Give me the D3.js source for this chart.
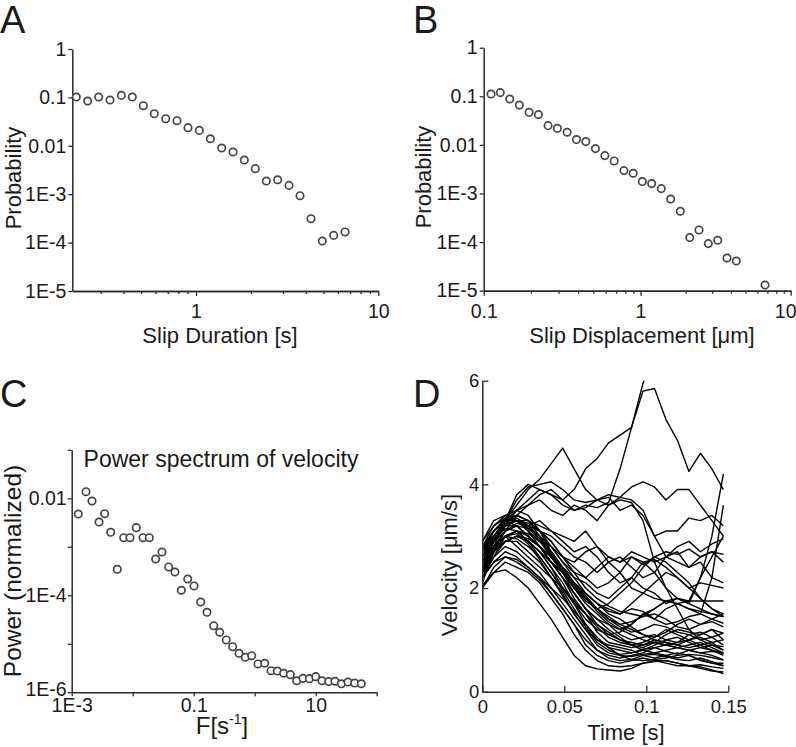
<!DOCTYPE html>
<html><head><meta charset="utf-8">
<script src="https://cdn.jsdelivr.net/npm/d3@7"></script>
<style>html,body{margin:0;padding:0;background:#fff;}svg{display:block;}</style>
</head><body>
<svg id="fig" width="796" height="747"></svg>
<script>
// ---------- DATA ----------
// Panel A: slip duration distribution
const durX = [0.2205,0.2545,0.2925,0.3375,0.3893,0.4472,0.514,0.5904,0.6823,0.7866,0.904,1.0426,1.198,1.384,1.596,1.841,2.115,2.43,2.806,3.237,3.72,4.274,4.93,5.692,6.567];
const durP = [0.102,0.0843,0.102,0.0884,0.110,0.102,0.0674,0.0461,0.0363,0.0330,0.0237,0.0208,0.0140,0.00901,0.00745,0.00509,0.00337,0.00187,0.00199,0.00152,0.000932,0.000312,0.000108,0.000141,0.000166];
// Panel B: slip displacement distribution
const dispX = [0.1114,0.1276,0.1466,0.1688,0.1947,0.2233,0.2574,0.2951,0.3404,0.3903,0.4479,0.516,0.5925,0.6792,0.7834,0.8983,1.028,1.187,1.375,1.589,1.841,2.127,2.452,2.828,3.266,3.766,4.343,6.744];
const dispP = [0.1115,0.1191,0.0879,0.0662,0.0469,0.0420,0.0249,0.0220,0.0182,0.0129,0.0117,0.00839,0.00602,0.00467,0.00296,0.00261,0.00176,0.00160,0.00126,0.000771,0.000431,0.000124,0.000178,0.0000931,0.000109,0.0000471,0.0000408,0.0000131];
// Panel C: power spectrum of velocity
const freq = [0.001282,0.001714,0.002153,0.002805,0.003475,0.004355,0.005593,0.00712,0.009036,0.01146,0.01476,0.01871,0.02382,0.0302,0.0389,0.04932,0.06266,0.0798,0.1012,0.1303,0.1652,0.2128,0.2667,0.342,0.4355,0.5534,0.7015,0.8933,1.132,1.459,1.849,2.344,2.985,3.837,4.887,6.194,7.852,10.0,12.68,16.33,20.7,26.3,33.88,43.55,55.98];
const power = [0.00474,0.01368,0.0088,0.00324,0.00481,0.00199,0.000344,0.00154,0.00154,0.00248,0.00154,0.00154,0.00056,0.000781,0.000384,0.000302,0.000127,0.000217,0.000156,0.0000728,0.0000446,0.0000236,0.0000173,0.000012,0.00000871,0.00000637,0.00000527,0.00000569,0.00000384,0.00000396,0.00000279,0.00000275,0.00000247,0.00000231,0.00000173,0.00000194,0.00000191,0.0000021,0.00000173,0.00000166,0.00000169,0.0000015,0.00000163,0.00000155,0.0000015];
// Panel D: velocity traces
const time = [0,0.007,0.014,0.021,0.028,0.035,0.042,0.049,0.056,0.063,0.070,0.077,0.084,0.091,0.098,0.105,0.112,0.119,0.126,0.133,0.140,0.147];
const velocity = [
 [2.4,2.9,3.3,3.6,3.9,4.1,4.4,4.7,4.3,3.9,3.7,3.75,3.5,3.6,3.4,3.0,2.6,2.7,2.4,2.5,2.2,2.1],
 [2.5,2.9,3.3,3.8,4.0,3.9,3.8,3.7,3.9,4.3,4.5,4.8,4.95,5.1,5.8,5.85,5.25,4.85,4.25,4.6,4.3,3.9],
 [2.6,3.0,3.3,3.5,3.6,3.8,3.9,3.7,3.5,3.6,3.55,3.65,4.3,5.1,5.95,6.6,7.0,7.2,7.0,7.0,7.0,7.0],
 [2.3,2.8,3.3,3.7,3.95,4.0,4.05,3.9,3.7,3.65,3.7,3.6,3.75,3.95,4.05,3.95,3.7,3.9,3.9,3.6,3.3,3.0],
 [2.5,2.9,3.2,3.5,3.7,3.9,3.8,3.6,3.5,3.55,3.7,3.8,3.75,3.7,3.5,3.0,3.1,3.1,3.35,3.3,3.4,3.2],
 [2.2,2.7,3.1,3.4,3.6,3.7,3.5,3.4,3.6,3.5,3.3,3.6,3.7,3.65,3.3,2.5,2.0,1.6,1.2,1.0,0.9,0.8],
 [2.6,3.1,3.3,3.4,3.3,3.2,3.1,3.0,2.9,3.1,2.8,2.6,2.5,2.6,2.45,2.6,2.7,2.65,2.75,2.6,2.7,2.65],
 [2.4,2.9,3.2,3.3,3.3,3.1,3.0,2.8,2.6,2.5,2.3,2.5,2.6,2.4,2.2,2.3,2.6,2.8,2.9,2.7,2.85,2.95],
 [2.3,2.8,3.1,3.25,3.2,3.3,3.1,2.9,2.7,2.8,2.6,2.3,2.1,2.2,2.5,2.55,2.4,2.2,2.0,2.1,2.05,2.0],
 [2.2,2.6,3.0,3.1,3.05,2.9,2.8,2.6,2.5,2.7,2.8,2.5,2.3,2.0,1.9,1.8,1.75,1.8,1.75,1.75,1.75,1.75],
 [2.5,3.0,3.3,3.35,3.2,3.0,2.8,2.5,2.3,2.2,2.4,2.6,2.5,2.7,2.6,2.5,2.6,2.5,2.4,2.6,2.7,2.5],
 [2.7,3.0,3.25,3.3,3.2,3.1,2.9,2.6,2.4,2.2,2.0,2.1,2.3,2.6,2.5,2.3,2.0,1.8,1.7,1.6,1.5,1.45],
 [2.1,2.7,3.0,3.1,3.0,2.8,2.6,2.4,2.2,2.1,1.9,1.8,2.0,2.2,2.0,1.9,1.7,1.8,1.7,2.2,2.6,3.0],
 [2.4,2.8,3.1,3.2,3.15,3.0,2.7,2.4,2.1,1.9,1.7,1.6,1.5,1.7,1.9,2.1,2.3,2.2,2.0,1.8,1.6,1.45],
 [2.3,2.7,2.9,3.0,2.95,2.8,2.6,2.3,2.0,1.8,1.6,1.7,1.9,2.1,2.4,2.6,2.5,2.3,2.1,1.8,1.6,1.5],
 [2.5,2.9,3.2,3.2,3.0,2.8,2.5,2.2,1.9,1.6,1.4,1.3,1.2,1.3,1.5,1.4,1.6,1.7,1.75,2.2,3.0,4.2],
 [2.2,2.6,2.9,3.0,2.9,2.7,2.4,2.0,1.7,1.4,1.2,1.1,1.15,1.3,1.5,1.6,1.75,1.7,1.6,1.5,2.2,3.6],
 [2.05,2.3,2.35,2.2,2.0,1.7,1.4,1.05,0.7,0.5,0.44,0.42,0.4,0.45,0.55,0.6,0.6,0.55,0.5,0.45,0.4,0.38],
 [2.0,2.3,2.5,2.4,2.3,2.1,1.8,1.5,1.1,0.8,0.6,0.5,0.48,0.5,0.55,0.58,0.6,0.55,0.5,0.48,0.42,0.35],
 [2.2,2.5,2.7,2.6,2.4,2.2,1.9,1.6,1.3,0.9,0.7,0.6,0.55,0.6,0.65,0.6,0.55,0.5,0.5,0.52,0.48,0.45],
 [2.3,2.6,2.8,2.7,2.5,2.3,2.0,1.7,1.4,1.1,0.8,0.65,0.6,0.62,0.7,0.72,0.68,0.62,0.6,0.65,0.58,0.5],
 [2.4,2.7,2.9,2.9,2.7,2.5,2.2,1.9,1.5,1.2,0.9,0.75,0.7,0.68,0.72,0.75,0.7,0.65,0.7,0.6,0.55,0.55],
 [2.5,2.8,3.0,3.1,2.9,2.7,2.4,2.1,1.7,1.3,1.0,0.85,0.8,0.75,0.82,0.85,0.78,0.72,0.8,0.75,0.7,0.62],
 [2.6,2.9,3.2,3.3,3.1,2.8,2.5,2.2,1.8,1.5,1.15,0.95,0.9,0.85,0.9,0.95,0.9,0.85,0.9,0.95,0.85,0.75],
 [2.7,3.0,3.3,3.4,3.3,3.0,2.6,2.3,1.9,1.6,1.3,1.1,1.0,0.95,0.9,1.0,0.95,0.9,1.0,1.05,0.95,0.8],
 [2.8,3.1,3.3,3.3,3.2,2.9,2.6,2.3,2.0,1.7,1.5,1.3,1.1,1.0,1.05,1.1,1.0,0.95,1.1,1.15,1.05,0.9],
 [2.9,3.2,3.4,3.5,3.4,3.1,2.7,2.4,2.1,1.8,1.55,1.35,1.2,1.1,1.0,0.95,0.9,0.95,1.0,1.1,1.2,1.0],
 [2.5,2.9,3.1,3.2,3.0,2.8,2.5,2.2,1.9,1.6,1.4,1.2,1.05,0.9,0.85,0.95,1.1,1.2,1.15,1.1,1.2,1.13],
 [2.3,2.7,2.9,3.0,2.9,2.7,2.5,2.3,2.0,1.75,1.6,1.45,1.3,1.2,1.1,1.05,1.15,1.3,1.4,1.3,1.35,1.25],
 [2.6,3.0,3.2,3.3,3.25,3.1,2.8,2.5,2.2,1.9,1.7,1.5,1.4,1.25,1.1,1.0,0.95,0.9,0.85,0.9,0.95,1.0],
 [2.4,2.8,3.0,2.95,2.8,2.6,2.3,2.0,1.7,1.5,1.3,1.15,1.0,0.9,0.8,0.75,0.8,0.85,0.8,0.75,0.78,0.74],
 [2.7,3.1,3.3,3.2,3.0,2.8,2.5,2.3,2.1,1.9,1.7,1.55,1.5,1.6,1.55,1.4,1.3,1.35,1.45,1.5,1.4,1.32],
 [2.2,2.5,2.6,2.55,2.4,2.2,2.0,1.8,1.55,1.3,1.05,0.85,0.7,0.62,0.6,0.62,0.65,0.7,0.72,0.7,0.66,0.61],
 [2.8,3.2,3.35,3.4,3.3,3.1,2.9,2.6,2.3,2.0,1.8,1.65,1.55,1.5,1.45,1.6,1.75,1.7,1.6,1.55,1.5,1.45],
 [2.0,2.4,2.6,2.5,2.35,2.15,1.9,1.6,1.3,1.0,0.8,0.7,0.65,0.7,0.75,0.85,0.9,0.85,0.8,0.85,0.9,0.87],
 [2.9,3.3,3.4,3.3,3.1,2.9,2.7,2.4,2.1,1.85,1.6,1.4,1.25,1.15,1.2,1.3,1.25,1.15,1.1,1.0,1.05,1.13],
 [2.5,2.8,3.0,2.8,2.6,2.4,2.2,2.0,1.75,1.5,1.25,1.05,0.95,0.9,0.95,1.05,1.2,1.1,1.0,0.9,0.8,0.74],
 [2.6,2.95,3.15,3.1,2.9,2.6,2.3,1.95,1.6,1.25,0.95,0.8,0.72,0.75,0.8,0.9,1.0,1.05,0.95,0.85,0.8,0.7],
 [2.35,2.75,3.0,3.05,2.85,2.55,2.2,1.85,1.5,1.2,1.0,0.9,0.85,0.8,0.7,0.65,0.7,0.75,0.7,0.62,0.55,0.5],
 [2.75,3.1,3.35,3.3,3.15,2.95,2.65,2.35,2.05,1.8,1.6,1.4,1.3,1.35,1.45,1.5,1.4,1.25,1.2,1.3,1.4,1.5]
];
// Tick values / labels
const probTicks = [1,0.1,0.01,1e-3,1e-4,1e-5];
const probTickLabels = ["1","0.1","0.01","1E-3","1E-4","1E-5"];
const durMajor = [1,10], durMajorLabels = ["1","10"];
const durMinor = [0.3,0.4,0.5,0.6,0.7,0.8,0.9,2,3,4,5,6,7,8,9];
const dispMajor = [0.1,1,10], dispMajorLabels = ["0.1","1","10"];
const dispMinor = [0.2,0.3,0.4,0.5,0.6,0.7,0.8,0.9,2,3,4,5,6,7,8,9];
const freqTicks = [1e-3,1e-2,1e-1,1,10,100];
const freqTickLabels = ["1E-3","","0.1","","10",""];
const powTicks = [1e-6,1e-5,1e-4,1e-3,1e-2,1e-1];
const powTickLabels = ["1E-6","","1E-4","","0.01",""];
const timeTicks = [0,0.05,0.1,0.15], timeTickLabels = ["0","0.05","0.1","0.15"];
const velTicks = [0,2,4,6], velTickLabels = ["0","2","4","6"];

// ---------- DRAWING ----------
const FONT = "'Liberation Sans', Arial, Helvetica, sans-serif";
const svg = d3.select("#fig");
const AX = "#2b2b2b";

function styleAxis(g, fs) {
  g.select(".domain").attr("stroke", AX).attr("stroke-width", 1.5);
  g.selectAll(".tick line").attr("stroke", AX).attr("stroke-width", 1.3);
  g.selectAll("text").attr("font-family", FONT).attr("font-size", fs).attr("fill", "#1a1a1a");
}
function label(txt, x, y, size, rot, anchor) {
  const t = svg.append("text").attr("font-family", FONT).attr("font-size", size)
    .attr("fill", "#1a1a1a").attr("text-anchor", anchor || "middle").text(txt);
  if (rot) t.attr("transform", `translate(${x},${y}) rotate(-90)`);
  else t.attr("x", x).attr("y", y);
  return t;
}
function scatter(xs, ys, xS, yS) {
  svg.append("g").selectAll("circle").data(xs).join("circle")
    .attr("cx", d => xS(d)).attr("cy", (d, i) => yS(ys[i])).attr("r", 3.7)
    .attr("fill", "white").attr("stroke", "#454545").attr("stroke-width", 1.7);
}

// Panel A
const xA = d3.scaleLog().domain([0.2096, 10]).range([72.3, 378.3]);
const yA = d3.scaleLog().domain([1e-5, 1]).range([291, 49]);
svg.append("g").attr("transform", "translate(0,291)")
  .call(d3.axisBottom(xA).tickValues(durMinor).tickSize(3).tickSizeOuter(0).tickFormat(""))
  .call(styleAxis, 19.5);
svg.append("g").attr("transform", "translate(0,291)")
  .call(d3.axisBottom(xA).tickValues(durMajor).tickSize(5).tickPadding(8).tickSizeOuter(0).tickFormat((d, i) => durMajorLabels[i]))
  .call(styleAxis, 19.5);
svg.append("g").attr("transform", "translate(72.3,0)")
  .call(d3.axisLeft(yA).tickValues(probTicks).tickSize(4).tickPadding(2).tickSizeOuter(0).tickFormat((d, i) => probTickLabels[i]))
  .call(styleAxis, 19.5);
scatter(durX, durP, xA, yA);
label("Slip Duration [s]", 220, 342.5, 22);
label("Probability", 21, 178, 22, true);
label("A", 0, 33, 38, false, "start");

// Panel B (piecewise log axis, as printed)
const xB = d3.scaleLog().domain([0.1, 1, 10]).range([483.7, 640.5, 790.7]);
const yB = d3.scaleLog().domain([1e-5, 1]).range([290.7, 47.7]);
svg.append("g").attr("transform", "translate(0,290.7)")
  .call(d3.axisBottom(xB).tickValues(dispMinor).tickSize(3).tickSizeOuter(0).tickFormat(""))
  .call(styleAxis, 19.5);
const axB = svg.append("g").attr("transform", "translate(0,290.7)")
  .call(d3.axisBottom(xB).tickValues(dispMajor).tickSize(5).tickPadding(8).tickSizeOuter(0).tickFormat((d, i) => dispMajorLabels[i]))
  .call(styleAxis, 19.5);
// last label sits against the page edge, as in the printed figure
axB.selectAll(".tick").filter(d => d === 10).select("text")
  .attr("text-anchor", "end").attr("x", 796 - xB(10));
svg.append("g").attr("transform", "translate(483.7,0)")
  .call(d3.axisLeft(yB).tickValues(probTicks).tickSize(4).tickPadding(2).tickSizeOuter(0).tickFormat((d, i) => probTickLabels[i]))
  .call(styleAxis, 19.5);
scatter(dispX, dispP, xB, yB);
label("Slip Displacement [\u03bcm]", 642, 342.5, 22);
label("Probability", 431, 177, 22, true);
label("B", 413, 33, 38, false, "start");

// Panel C
const xC = d3.scaleLog().domain([1e-3, 100]).range([71.7, 376.7]);
const yC = d3.scaleLog().domain([1e-6, 0.1]).range([692.3, 449.8]);
svg.append("g").attr("transform", "translate(0,692.3)")
  .call(d3.axisBottom(xC).tickValues(freqTicks).tickSize(4).tickPadding(1.5).tickSizeOuter(0).tickFormat((d, i) => freqTickLabels[i]))
  .call(styleAxis, 19.5);
const ayC = svg.append("g").attr("transform", "translate(71.7,0)")
  .call(d3.axisLeft(yC).tickValues(powTicks).tickSize(4).tickPadding(1).tickSizeOuter(0).tickFormat((d, i) => powTickLabels[i]))
  .call(styleAxis, 19.5);
// bottom label nudged up slightly so it clears the x-axis "1E-3" label
ayC.selectAll(".tick").filter(d => d === 1e-6).select("text").attr("y", -3);
scatter(freq, power, xC, yC);
label("Power spectrum of velocity", 221, 467, 23);
label("Power (normalized)", 21, 571, 24.5, true);
const fl = label("F[s", 222, 734, 24);
fl.append("tspan").attr("font-size", 14).attr("dy", -10).text("-1");
fl.append("tspan").attr("dy", 10).text("]");
label("C", 0, 407, 38, false, "start");

// Panel D
const xD = d3.scaleLinear().domain([0, 0.15]).range([482.3, 728.3]);
const yD = d3.scaleLinear().domain([0, 6]).range([691.7, 380.7]);
svg.append("defs").append("clipPath").attr("id", "clipD").append("rect")
  .attr("x", xD(0)).attr("y", yD(6)).attr("width", xD(0.15) - xD(0)).attr("height", yD(0) - yD(6));
const lineGen = d3.line().x((d, i) => xD(time[i])).y(d => yD(d));
svg.append("g").attr("clip-path", "url(#clipD)").selectAll("path").data(velocity).join("path")
  .attr("d", lineGen).attr("fill", "none").attr("stroke", "#000").attr("stroke-width", 1.4)
  .attr("stroke-linejoin", "round");
svg.append("g").attr("transform", "translate(0,691.7)")
  .call(d3.axisBottom(xD).tickValues(timeTicks).tickSize(-6).tickPadding(8.5).tickSizeOuter(0).tickFormat((d, i) => timeTickLabels[i]))
  .call(styleAxis, 18.5);
svg.append("g").attr("transform", "translate(482.3,0)")
  .call(d3.axisLeft(yD).tickValues(velTicks).tickSize(-6).tickPadding(3).tickSizeOuter(0).tickFormat((d, i) => velTickLabels[i]))
  .call(styleAxis, 18.5);
label("Time [s]", 626, 740, 22);
label("Velocity [\u03bcm/s]", 457, 565, 22, true);
label("D", 413, 407, 38, false, "start");
</script>
</body></html>
